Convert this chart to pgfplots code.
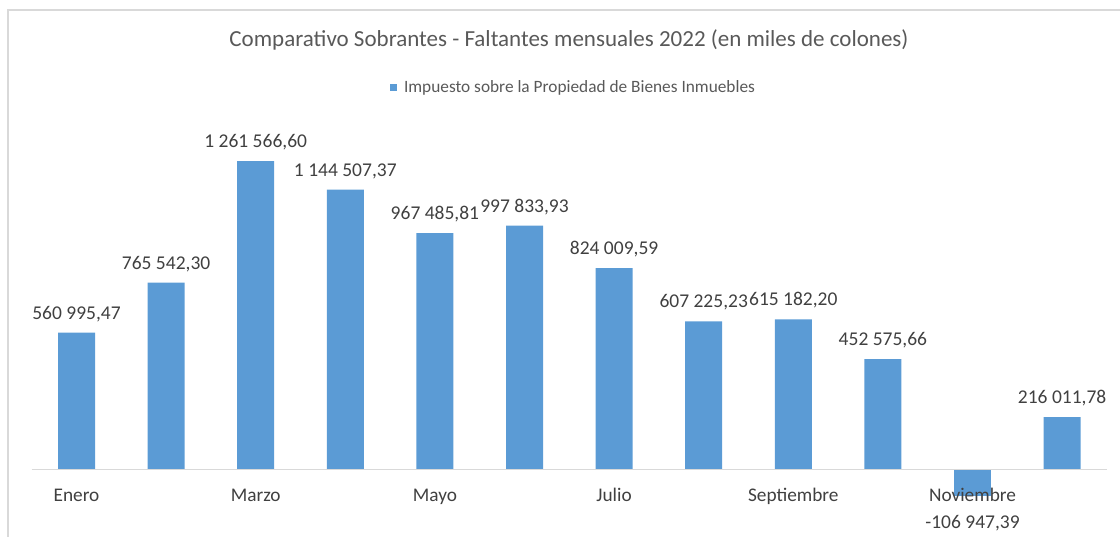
\documentclass[border=0pt]{standalone}
\usepackage{fontspec}
\setmainfont{Carlito}
\usepackage{pgfplots}
\pgfplotsset{compat=1.18}
\usepackage{pgfplotstable}
\definecolor{barblue}{HTML}{5B9BD5}
\definecolor{txt}{HTML}{404040}
\definecolor{ttl}{HTML}{595959}
\definecolor{axgray}{HTML}{D9D9D9}

\pgfplotstableread[col sep=semicolon]{
x;y;lab
0;560995.47;560 995,47
1;765542.30;765 542,30
2;1261566.60;1 261 566,60
3;1144507.37;1 144 507,37
4;967485.81;967 485,81
5;997833.93;997 833,93
6;824009.59;824 009,59
7;607225.23;607 225,23
8;615182.20;615 182,20
9;452575.66;452 575,66
11;216011.78;216 011,78
}\pos
\pgfplotstableread[col sep=semicolon]{
x;y;lab
10;-106947.39;-106 947,39
}\neg

\begin{document}
\begin{tikzpicture}[x=1pt,y=1pt]
\path[use as bounding box] (0,0) rectangle (1120,537);
\draw[axgray, line width=1.5pt] (8,0) -- (8,527) -- (1121,527);
\node[font=\fontsize{23}{27}\selectfont, text=ttl] at (569,497) {Comparativo Sobrantes - Faltantes mensuales 2022 (en miles de colones)};
\begin{axis}[
  at={(31.7pt,18.02pt)}, anchor=south west,
  scale only axis, width=1075.2pt, height=391.84pt,
  xmin=-0.5, xmax=11.5, ymin=-200000, ymax=1400000,
  axis y line=none, axis x line*=middle,
  x axis line style={draw=axgray, line width=1pt},
  axis on top,
  xtick={0,2,4,6,8,10},
  xticklabels={Enero,Marzo,Mayo,Julio,Septiembre,Noviembre},
  major tick length=0pt,
  xticklabel style={font=\fontsize{19.3}{22}\selectfont, text=txt, anchor=base, yshift=-32pt},
  ytick=\empty,
  clip=false,
  legend style={at={(0.5039,1.1024)}, anchor=center, draw=none, fill=none,
    font=\fontsize{17.3}{20}\selectfont, text=ttl},
  legend image code/.code={\fill[barblue] (0pt,-3.5pt) rectangle (7pt,3.5pt);},
  point meta=explicit symbolic,
  nodes near coords,
  every node near coord/.append style={font=\fontsize{19.5}{22}\selectfont, text=txt, anchor=base, yshift=13.5pt},
]
\addplot[ybar, bar width=37pt, bar shift=0pt, fill=barblue, draw=none] table[x=x, y=y, meta=lab] {\pos};
\addlegendentry{\hspace{5pt}Impuesto sobre la Propiedad de Bienes Inmuebles}
\addplot[ybar, bar width=37pt, bar shift=0pt, fill=barblue, draw=none, forget plot,
  every node near coord/.append style={anchor=base, yshift=-46pt}] table[x=x, y=y, meta=lab] {\neg};
\end{axis}
\end{tikzpicture}
\end{document}
